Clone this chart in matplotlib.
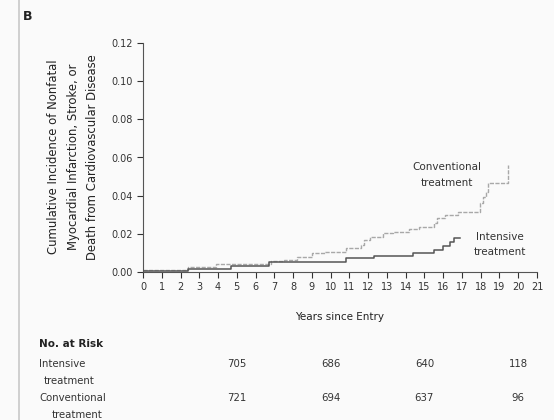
import matplotlib.pyplot as plt
from matplotlib.transforms import blended_transform_factory

# step data (years, cumulative incidence)
conv_years = [0, 2.4, 3.9, 6.8, 7.5, 8.2, 9.0, 9.7, 10.8, 11.6, 11.8, 12.1, 12.8, 13.3,
              14.2, 14.7, 15.5, 15.65, 16.1, 16.8, 17.96, 18.14, 18.3, 18.4, 19.47]
conv_inc = [0.0008, 0.0026, 0.0039, 0.0056, 0.0061, 0.0076, 0.0097, 0.0105, 0.0123, 0.0140,
            0.0167, 0.0184, 0.0202, 0.0210, 0.0223, 0.0236, 0.0254, 0.0281, 0.0298, 0.0315,
            0.0359, 0.0394, 0.0420, 0.0465, 0.0561]
int_years = [0, 2.4, 4.7, 6.7, 10.8, 12.3, 14.4, 15.5, 16.0, 16.35, 16.6, 16.9]
int_inc = [0.0005, 0.0013, 0.0030, 0.0053, 0.0070, 0.0083, 0.0097, 0.0114, 0.0135,
           0.0158, 0.0176, 0.0176]

risk_years = [5, 10, 15, 20]
risk_intensive = [705, 686, 640, 118]
risk_conventional = [721, 694, 637, 96]

yticks = [0.00, 0.02, 0.04, 0.06, 0.08, 0.10, 0.12]
xticks = list(range(0, 22))

txt = '#333333'
fig = plt.figure(figsize=(5.54, 4.2), dpi=100)
fig.patch.set_facecolor('#fafafa')
fig.add_artist(plt.Line2D([19/554, 19/554], [0, 1], color='#c8c8c8', lw=1.2))

ax = fig.add_axes([143/554, 1 - 271.7/420, 394/554, 228.4/420])
ax.set_facecolor('#fafafa')
ax.step(conv_years, conv_inc, where='post', color='#a8a8a8', lw=1.0, dashes=(3, 1))
ax.step(int_years, int_inc, where='post', color='#555555', lw=1.1)

ax.set_xlim(0, 21)
ax.set_ylim(0, 0.12)
ax.set_xticks(xticks)
ax.set_yticks(yticks)
ax.set_yticklabels([f'{v:.2f}' for v in yticks])
ax.tick_params(labelsize=7, colors=txt, length=4, width=0.8, direction='out')
for s in ['top', 'right']:
    ax.spines[s].set_visible(False)
for s in ['left', 'bottom']:
    ax.spines[s].set_color('#555555')
    ax.spines[s].set_linewidth(0.8)

ax.text(16.2, 0.0552, 'Conventional', ha='center', va='center', fontsize=7.5, color=txt)
ax.text(16.2, 0.0465, 'treatment', ha='center', va='center', fontsize=7.5, color=txt)
ax.text(19.0, 0.0181, 'Intensive', ha='center', va='center', fontsize=7.5, color=txt)
ax.text(19.0, 0.0105, 'treatment', ha='center', va='center', fontsize=7.5, color=txt)

ax.set_xlabel('Years since Entry', fontsize=7.5, color='#222222', labelpad=14)
fig.text(73/554, 1 - 157/420,
         'Cumulative Incidence of Nonfatal\nMyocardial Infarction, Stroke, or\nDeath from Cardiovascular Disease',
         rotation=90, ha='center', va='center', fontsize=8.4, color='#222222',
         linespacing=1.7)
fig.text(28/554, 1 - 17/420, 'B', ha='center', va='center', fontsize=9,
         fontweight='bold', color='#222222')

# number at risk table
trans = blended_transform_factory(ax.transData, fig.transFigure)
fig.text(39/554, 1 - 344/420, 'No. at Risk', ha='left', va='center', fontsize=7.5,
         fontweight='bold', color='#222222')
fig.text(39/554, 1 - 363.6/420, 'Intensive', ha='left', va='center', fontsize=7.3, color=txt)
fig.text(44/554, 1 - 381/420, 'treatment', ha='left', va='center', fontsize=7.3, color=txt)
fig.text(39/554, 1 - 398/420, 'Conventional', ha='left', va='center', fontsize=7.3, color=txt)
fig.text(52/554, 1 - 415/420, 'treatment', ha='left', va='center', fontsize=7.3, color=txt)
for x, a, b in zip(risk_years, risk_intensive, risk_conventional):
    ax.text(x, 1 - 363.6/420, str(a), transform=trans, ha='center', va='center',
            fontsize=7.3, color=txt)
    ax.text(x, 1 - 398/420, str(b), transform=trans, ha='center', va='center',
            fontsize=7.3, color=txt)

fig.savefig('out.png', dpi=100, facecolor=fig.get_facecolor())
